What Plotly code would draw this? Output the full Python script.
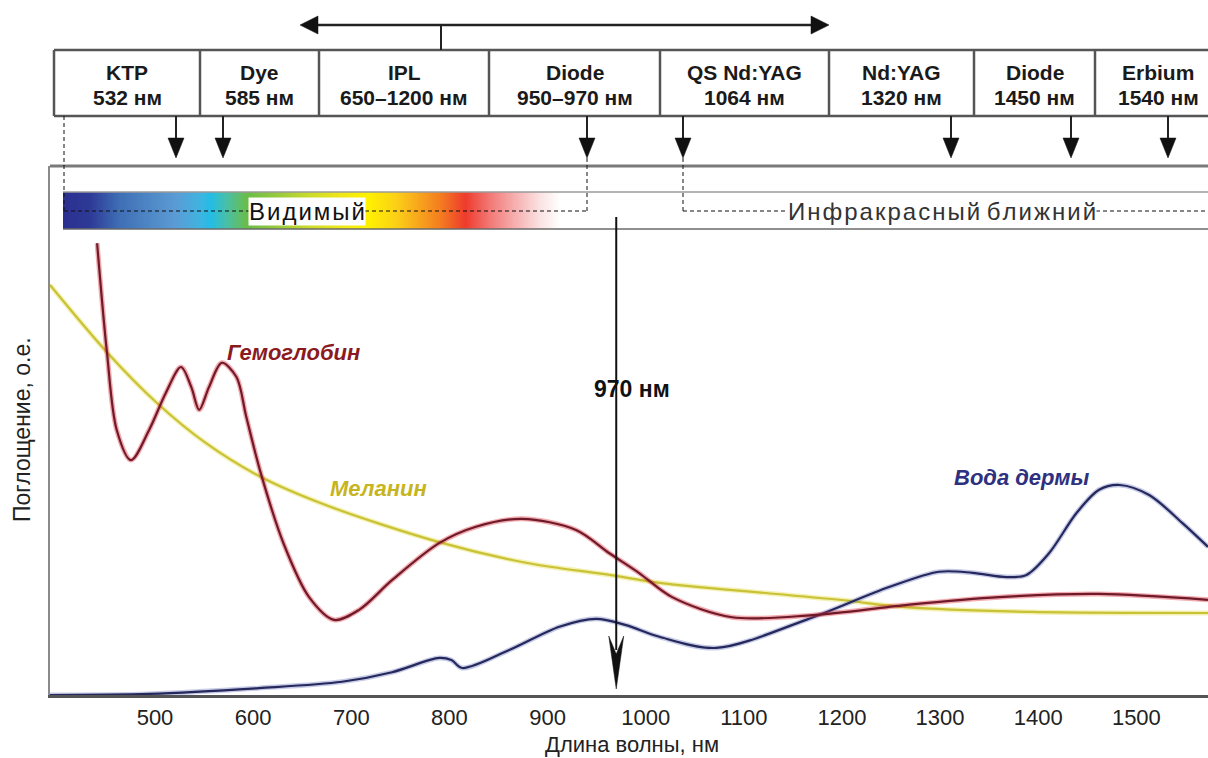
import plotly.graph_objects as go

W, H = 1208, 758

# ---------------- data ----------------
hb_nm = [441, 451, 461, 475.5, 494, 511, 526.5, 537, 545, 555, 568, 583, 593, 608,
         631.5, 657, 682.5, 708, 741.5, 789.5, 827, 874, 929, 963, 993, 1027, 1088,
         1170, 1265, 1360, 1462, 1573]
hb_val = [85.4, 64.8, 50.1, 44.4, 50.1, 57.1, 62.0, 58.2, 53.9, 58.2, 62.8, 60.1, 52.6, 41.8,
          28.4, 18.5, 14.2, 16.1, 21.7, 28.7, 31.8, 33.3, 31.2, 26.8, 23.1, 18.5, 14.7,
          15.1, 17.0, 18.5, 19.1, 18.0]

mel_nm = [393, 451, 502, 552, 608, 674, 789.5, 878, 963, 1014, 1197, 1265, 1394, 1573]
mel_val = [77.5, 64.8, 55.2, 47.6, 41.2, 35.9, 28.9, 25.0, 22.7, 21.2, 18.0, 16.6, 15.7, 15.5]

water_nm = [393, 494, 606, 690.5, 741.5, 789.5, 802, 813, 861, 912, 949.5, 980, 1014, 1072,
            1163.5, 1248, 1299, 1333, 1367.5, 1388, 1411, 1439, 1462, 1483, 1513, 1547, 1573]
water_val = [0, 0.2, 1.3, 2.5, 4.3, 7.0, 6.6, 5.1, 8.5, 12.9, 14.4, 13.2, 11.0, 8.9,
             14.2, 20.4, 23.3, 23.1, 22.3, 22.7, 26.8, 34.4, 38.8, 39.7, 37.8, 32.5, 28.0]

x_ticks = [500, 600, 700, 800, 900, 1000, 1100, 1200, 1300, 1400, 1500]

laser_names = ["KTP", "Dye", "IPL", "Diode", "QS Nd:YAG", "Nd:YAG", "Diode", "Erbium"]
laser_waves = ["532 нм", "585 нм", "650–1200 нм", "950–970 нм", "1064 нм", "1320 нм", "1450 нм", "1540 нм"]

marker_nm = 970

# ---------------- layout helpers (pixel -> paper) ----------------
def PX(x):
    return x / W

def PY(y):
    return 1 - y / H

FONT = "Liberation Sans, Arial, sans-serif"

box_edges = [54, 200, 319, 489, 660, 829, 974, 1095, 1221]
box_text_x = [127, 259.5, 404, 574.5, 744.5, 901.5, 1034.5, 1158]
down_arrow_x = [176, 223, 587, 683, 951, 1071, 1168]

# spectrum colour stops (pixel position, colour)
spec_pos = [63, 90, 118, 150, 175, 200, 210, 228, 247, 280, 307, 340, 367, 395, 420, 440,
            465, 490, 515, 540, 560]
spec_col = ["#2b3090", "#2e3a97", "#3e6db4", "#4f88c6", "#5b9bd5", "#3fb4e0", "#23bde6",
            "#4dbfa0", "#6abd45", "#9ccb3b", "#c8da2b", "#eee719", "#fff200", "#fcd116",
            "#f7a21d", "#f47c20", "#ee3b2c", "#f27a78", "#f6b0b0", "#fbe3e3", "#ffffff"]

fig = go.Figure()

# curves with soft halo
def add_curve(x, y, color, halo):
    fig.add_trace(go.Scatter(x=x, y=y, mode="lines", line=dict(color=halo, width=5, shape="spline", smoothing=0.9),
                             hoverinfo="skip"))
    fig.add_trace(go.Scatter(x=x, y=y, mode="lines", line=dict(color=color, width=2.2, shape="spline", smoothing=0.9)))

add_curve(mel_nm, mel_val, "#c9c236", "rgba(230,225,90,0.45)")
add_curve(water_nm, water_val, "#24285c", "rgba(70,80,170,0.30)")
add_curve(hb_nm, hb_val, "#6e1a2a", "rgba(225,45,55,0.40)")

# spectrum gradient bar
norm = [(p - spec_pos[0]) / (spec_pos[-1] - spec_pos[0]) for p in spec_pos]
fig.add_trace(go.Heatmap(x=spec_pos, y=[0, 1], z=[norm, norm], zmin=0, zmax=1,
                         colorscale=[[n, c] for n, c in zip(norm, spec_col)],
                         zsmooth="best", showscale=False, hoverinfo="skip",
                         xaxis="x2", yaxis="y2"))

shapes = []
def line(x0, y0, x1, y1, color="#000", width=1.5, dash=None):
    d = dict(type="line", xref="paper", yref="paper", x0=PX(x0), y0=PY(y0), x1=PX(x1), y1=PY(y1),
             line=dict(color=color, width=width))
    if dash:
        d["line"]["dash"] = dash
    shapes.append(d)

def tri(points, color="#111"):
    path = "M " + " L ".join(f"{PX(a)},{PY(b)}" for a, b in points) + " Z"
    shapes.append(dict(type="path", xref="paper", yref="paper", path=path,
                       fillcolor=color, line=dict(color=color, width=0.5)))

# top frame of plot area
line(50, 166, W, 166, "#7a7a7a", 3)
# grey lines around spectrum
line(63, 192, W, 192, "#9a9a9a", 1.5)
line(63, 229, W, 229, "#6a6a6a", 1.5)

# laser boxes
line(54, 50, W, 50, "#555", 2.5)
line(54, 116, W, 116, "#555", 2.5)
for e in box_edges[:-1]:
    line(e, 50, e, 116, "#555", 2.5)

# top double arrow
line(316, 25, 813, 25, "#222", 2.5)
line(441, 25, 441, 50, "#222", 2)
tri([(300, 25), (318, 16), (318, 34)])
tri([(829, 25), (811, 16), (811, 34)])

# down arrows
for ax in down_arrow_x:
    line(ax, 116, ax, 142, "#222", 2)
    tri([(ax - 8, 138), (ax + 8, 138), (ax, 158)])

# dashed brackets
DASH = "4px,3px"
line(64, 116, 64, 211, "#111", 1, DASH)
line(64, 211, 587, 211, "#111", 1, DASH)
line(587, 158, 587, 211, "#111", 1, DASH)
line(683, 158, 683, 211, "#111", 1, DASH)
line(683, 211, W, 211, "#111", 1, DASH)

# 970 nm arrow (data x)
y_top, y_tip = 217, 689
shapes.append(dict(type="line", xref="x", yref="paper", x0=marker_nm, x1=marker_nm,
                   y0=PY(y_top), y1=PY(650), line=dict(color="#111", width=2)))
hw = 7.5 / 0.982
shapes.append(dict(type="path", xref="x", yref="paper",
                   path=f"M {marker_nm},{PY(y_tip)} L {marker_nm - hw},{PY(636)} L {marker_nm},{PY(654)} L {marker_nm + hw},{PY(636)} Z",
                   fillcolor="#111", line=dict(color="#111", width=0.5)))

annotations = []
def text(x, y, s, size=22, color="#111", bold=False, italic=False, **kw):
    if bold:
        s = f"<b>{s}</b>"
    if italic:
        s = f"<i>{s}</i>"
    d = dict(x=PX(x), y=PY(y), xref="paper", yref="paper", text=s, showarrow=False,
             xanchor="center", yanchor="middle", font=dict(family=FONT, size=size, color=color))
    d.update(kw)
    annotations.append(d)

for name, wl, tx in zip(laser_names, laser_waves, box_text_x):
    text(tx, 72, name, size=21, color="#1a1a1a", bold=True)
    text(tx, 98, wl, size=21, color="#1a1a1a", bold=True)

HS = "\u200a"
text(307, 211, HS.join("Видимый"), size=24, color="#111", bgcolor="white", borderpad=0)
text(942, 212, HS.join("Инфракрасный") + " " + HS.join("ближний"), size=24, color="#333",
     bgcolor="white", borderpad=0)

text(632, 389, "970 нм", size=23, color="#111", bold=True)
text(293, 352, "Гемоглобин", size=22, color="#8b1a1f", bold=True, italic=True)
text(378, 488, "Меланин", size=22, color="#c6b520", bold=True, italic=True)
text(1022, 477, "Вода дермы", size=22, color="#2e3080", bold=True, italic=True)

text(632, 744, "Длина волны, нм", size=22, color="#222")
text(22, 430, "Поглощение, о.е.", size=23, color="#222", textangle=-90)

fig.update_layout(
    width=W, height=H,
    margin=dict(l=0, r=0, t=0, b=0, pad=0),
    plot_bgcolor="white", paper_bgcolor="white",
    showlegend=False,
    xaxis=dict(domain=[50 / W, 1], range=[393, 1573], tickvals=x_ticks,
               showgrid=False, zeroline=False, showline=True, linecolor="#555", linewidth=3,
               ticks="", tickfont=dict(family=FONT, size=22, color="#222"), ticklabelstandoff=1),
    yaxis=dict(domain=[1 - 695 / H, 1 - 166 / H], range=[0, 100], showgrid=False, zeroline=False,
               showline=True, linecolor="#8a8a8a", linewidth=2, showticklabels=False, ticks=""),
    xaxis2=dict(domain=[63 / W, 560 / W], anchor="y2", range=[63, 560], visible=False),
    yaxis2=dict(domain=[1 - 229 / H, 1 - 192 / H], anchor="x2", range=[0, 1], visible=False),
    shapes=shapes,
    annotations=annotations,
)

fig.write_html("out.html")
